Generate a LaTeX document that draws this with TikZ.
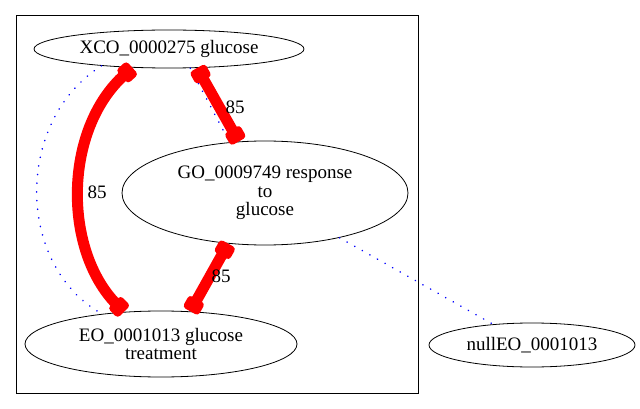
\documentclass[tikz,border=0pt]{standalone}
\usepackage{fontspec}
\setmainfont{Liberation Serif}
\usetikzlibrary{shapes.geometric,arrows.meta}
\definecolor{FlowRed}{HTML}{FF0000}
\definecolor{LinkBlue}{HTML}{0000FF}

\begin{document}
\begin{tikzpicture}[
  x=1pt, y=-1pt,
  font=\fontsize{19}{18.5}\selectfont,
  ent/.style={draw,ellipse,line width=.8pt,inner sep=0pt,align=center},
  flow/.style={{Rectangle[round,length=14pt,width=18pt]}-{Rectangle[round,length=14pt,width=18pt]},
               line width=11pt,draw=FlowRed},
  link/.style={draw=LinkBlue,line width=1.6pt,line cap=round,
               dash pattern=on 0.2pt off 8.5pt},
  lbl/.style={inner sep=0pt}]

\useasboundingbox (0,0) rectangle (640,409);
\draw[line width=.8pt] (16,15) rectangle (418,393);

\node[ent,minimum width=270pt,minimum height=38pt] (xco) at (169,49)
  {XCO\_0000275 glucose};
\node[ent,minimum width=286pt,minimum height=104pt] (go) at (265,193)
  {GO\_0009749 response\\to\\glucose};
\node[ent,minimum width=272pt,minimum height=66pt] (eo) at (161,344)
  {EO\_0001013 glucose\\treatment};
\node[ent,minimum width=206pt,minimum height=44pt] (null) at (532,345)
  {nullEO\_0001013};

% dotted links
\draw[link] (xco.194.6) .. controls (15,120) and (15,265) .. (eo.153.3);
\draw[link] (xco.318) -- (go.125.6);
\draw[link] (go.329.9) -- (null.152.4);

% thick flows
\draw[flow] (xco.207.6) .. controls (63,130) and (63,250) .. (eo.139.4);
\draw[flow] (xco.326.4) -- (go.117.9);
\draw[flow] (go.234.4) -- (eo.48);

\node[lbl] (l1) at (97,192) {85};
\node[lbl] (l2) at (235,107) {85};
\node[lbl] (l3) at (221,276) {85};
\end{tikzpicture}
\end{document}
